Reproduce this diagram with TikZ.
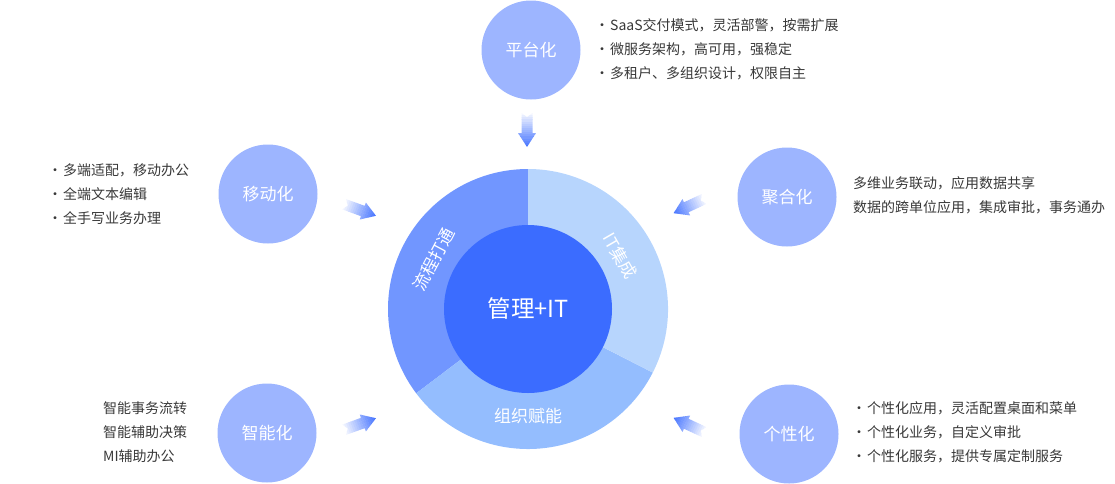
\documentclass[tikz,border=0pt]{standalone}
\usepackage{fontspec}
\setmainfont{Noto Sans CJK SC}
\definecolor{ringA}{HTML}{7196FF}
\definecolor{ringB}{HTML}{B7D5FD}
\definecolor{ringC}{HTML}{94BDFE}
\definecolor{core}{HTML}{3B6CFF}
\definecolor{sat}{HTML}{9DB5FF}
\definecolor{arrowblue}{HTML}{3F6FFF}
\definecolor{txt}{HTML}{383838}
\newcommand\gradarrow[3]{%
  \coordinate (#1) at #2;
  \begin{scope}[shift={(#1)}, rotate=#3]
    \clip (-17,-5.5) -- (3,-5.5) -- (3,-9) -- (17,0) -- (3,9) -- (3,5.5) -- (-17,5.5) -- (-13,0) -- cycle;
    \foreach \i in {0,...,16} {
      \pgfmathsetmacro\p{6+\i*94/16}
      \fill[arrowblue!\p!white] (-17+\i*2.125,-10) rectangle ++(2.4,20);
    }
  \end{scope}}
\tikzset{
  sat/.style={circle, fill=sat, minimum size=99pt, inner sep=0pt, text=white, font=\fontsize{17}{20}\selectfont},
  seg/.style={text=white, font=\fontsize{17}{20}\selectfont, inner sep=0pt},
  list/.style={anchor=west, inner sep=0pt, text=txt, align=left, font=\fontsize{14}{24}\selectfont},
}
\newcommand\bul{\makebox[0pt][c]{·}\hspace*{8pt}}
\begin{document}
\begin{tikzpicture}[x=1pt, y=-1pt]
\useasboundingbox (0,0) rectangle (1115,483);
% ring
\begin{scope}[shift={(528,309)}, yscale=-1]
  \fill[ringA] (0,0) -- (90:140) arc[start angle=90, end angle=217, radius=140] -- cycle;
  \fill[ringC] (0,0) -- (217:140) arc[start angle=217, end angle=333, radius=140] -- cycle;
  \fill[ringB] (0,0) -- (333:140) arc[start angle=333, end angle=450, radius=140] -- cycle;
\end{scope}
\node[circle, fill=core, minimum size=168pt, inner sep=0pt, text=white, font=\fontsize{23.5}{26}\selectfont] (core) at (528,309) {管理+IT};
\node[seg, rotate=62] (s1) at (434,259) {流程打通};
\node[seg, rotate=-60] (s2) at (620,256) {IT集成};
\node[seg] (s3) at (528,416) {组织赋能};
% satellites
\node[sat] (pt) at (531,50) {平台化};
\node[sat] (yd) at (268,194) {移动化};
\node[sat] (jh) at (787,197) {聚合化};
\node[sat] (zn) at (267,433) {智能化};
\node[sat] (gx) at (789,434) {个性化};
% arrows
\gradarrow{a1}{(527,130)}{-90}
\gradarrow{a2}{(360,210)}{-20}
\gradarrow{a3}{(689,206)}{205}
\gradarrow{a4}{(360,424)}{20}
\gradarrow{a5}{(689,425)}{155}
% lists
\node[list] (ptl) at (602,49) {\bul SaaS交付模式，灵活部警，按需扩展\\\bul 微服务架构，高可用，强稳定\\\bul 多租户、多组织设计，权限自主};
\node[list] (ydl) at (55,194) {\bul 多端适配，移动办公\\\bul 全端文本编辑\\\bul 全手写业务办理};
\node[list] (jhl) at (853,195) {多维业务联动，应用数据共享\\数据的跨单位应用，集成审批，事务通办};
\node[list] (znl) at (103,432) {智能事务流转\\智能辅助决策\\MI辅助办公};
\node[list] (gxl) at (859,432) {\bul 个性化应用，灵活配置桌面和菜单\\\bul 个性化业务，自定义审批\\\bul 个性化服务，提供专属定制服务};
\end{tikzpicture}
\end{document}
